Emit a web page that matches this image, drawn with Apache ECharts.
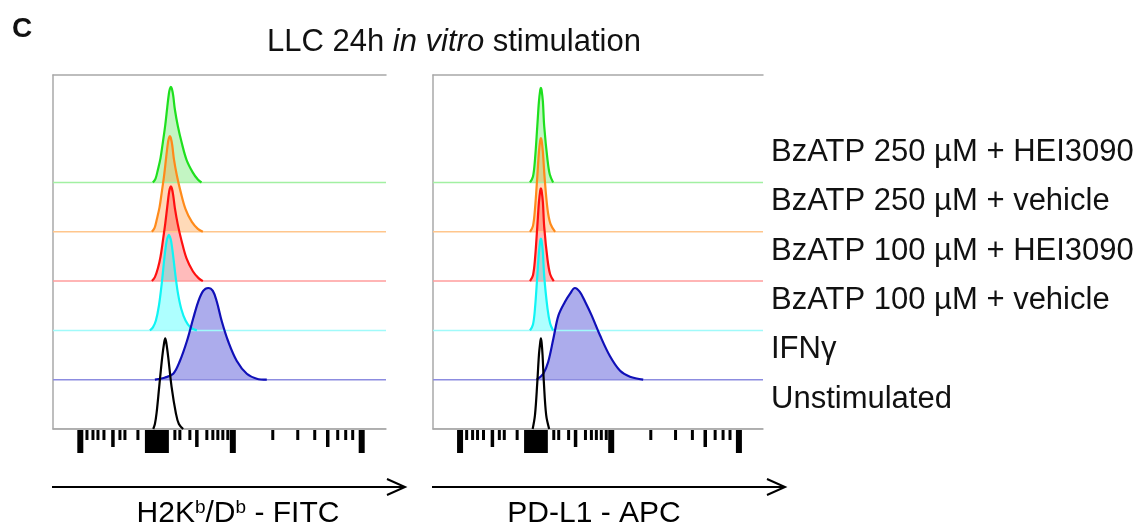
<!DOCTYPE html>
<html>
<head>
<meta charset="utf-8">
<script src="https://cdn.jsdelivr.net/npm/echarts@6/dist/echarts.min.js"></script>
<style>
  html, body { margin: 0; padding: 0; background: #fff; }
  #chart { width: 1142px; height: 531px; }
</style>
</head>
<body>
<div id="chart"></div>
<script>
// sample names, top row to bottom row
const samples = ['BzATP 250 µM + HEI3090', 'BzATP 250 µM + vehicle', 'BzATP 100 µM + HEI3090',
                 'BzATP 100 µM + vehicle', 'IFNγ', 'Unstimulated']
// vertical offset of each histogram (count units)
const rowOffsets = [250, 200, 150, 100, 50, 0]

// H2Kb/Db - FITC histograms, [channel, count]
const fitcBz250Hei = [[300,0],[308,4],[315,13],[323,25],[330,41],[337,58],[343,76],[348,90],[351,95],[354,97],[357,95],[361,88],[366,74],[375,57],[386,41],[401,23],[420,10],[435,3],[446,0]]
const fitcBz250Veh = [[297,0],[305,4],[312,13],[320,25],[327,41],[334,58],[340,76],[345,90],[348,95],[351,97],[354,95],[358,88],[363,74],[372,57],[383,41],[398,23],[417,10],[435,3],[450,0]]
const fitcBz100Hei = [[297,0],[306,4],[315,13],[323,25],[330,41],[337,58],[343,75],[348,89],[351,94],[354,96],[357,94],[361,87],[366,74],[375,57],[386,41],[401,23],[420,10],[437,3],[450,0]]
const fitcBz100Veh = [[291,0],[300,3],[309,10],[318,25],[327,49],[335,75],[341,90],[345,95],[348,97],[351,95],[355,90],[361,75],[368,55],[375,38],[385,22],[398,10],[413,3],[432,0]]
const fitcIfng     = [[306,0],[335,2],[361,6],[381,19],[402,39],[421,62],[436,79],[451,90],[466,93],[480,90],[492,79],[507,59],[526,39],[552,19],[582,6],[612,1],[642,0]]
const fitcUnstim   = [[301,0],[306,5],[311,16],[319,43],[328,73],[334,88],[337,92],[340,88],[346,73],[356,43],[369,16],[378,5],[391,0]]

// PD-L1 - APC histograms, [channel, count]
const apcBz250Hei = [[294,0],[303,6],[309,23],[316,57],[321,82],[325,94],[327,96],[329,94],[333,82],[337,57],[347,23],[354,8],[364,0]]
const apcBz250Veh = [[294,0],[303,6],[309,23],[316,56],[321,81],[325,93],[327,95],[329,93],[333,81],[338,56],[347,23],[356,8],[370,0]]
const apcBz100Hei = [[294,0],[303,6],[309,22],[316,55],[321,80],[325,92],[327,94],[329,92],[333,80],[337,55],[347,22],[355,7],[366,0]]
const apcBz100Veh = [[294,0],[303,6],[309,22],[316,55],[321,79],[325,91],[327,93],[329,91],[333,79],[337,55],[347,22],[355,7],[364,0]]
const apcIfng     = [[314,0],[334,6],[349,18],[365,42],[380,65],[400,79],[415,87],[430,93],[445,89],[461,79],[481,65],[506,45],[536,24],[567,9],[597,3],[637,0]]
const apcUnstim   = [[302,0],[309,14],[316,47],[321,75],[325,88],[327,92],[329,88],[332,75],[336,47],[343,14],[352,0]]

// axis tick positions (channel units), same on both panels
const minorTicks  = [102,120,135,153,201,216,255,366,381,411,462,480,495,510,525,660,735,786,855,879,900]
const mediumTicks = [180,432,825]
const majorTicks  = [82,540,927]
const zeroBand    = [276,348]

const panels = [
    [fitcBz250Hei, fitcBz250Veh, fitcBz100Hei, fitcBz100Veh, fitcIfng, fitcUnstim],
    [apcBz250Hei, apcBz250Veh, apcBz100Hei, apcBz100Veh, apcIfng, apcUnstim]
]

const lineColors = ['#1ee01e', '#ff8a1a', '#ff1010', '#10f4f4', '#1010b8', '#000000']
const fillColors = ['rgba(40,220,40,0.4)', 'rgba(255,140,30,0.45)', 'rgba(255,40,40,0.45)',
                    'rgba(0,255,255,0.45)', 'rgba(40,40,205,0.55)', 'rgba(0,0,0,0)']
const baseColors = ['#a2f0a2', '#ffc68c', '#ff9c9c', '#a0fafa', '#8c8ce0', '#aaaaaa']

const FONT = '"Liberation Sans", Arial, sans-serif'
const axisGray = '#a8a8a8'

let chart = echarts.init(document.getElementById('chart'))

let grids = [
    {left: 53, top: 75, width: 333, height: 354},
    {left: 433, top: 75, width: 330, height: 354}
]

let xAxes = []
// bottom axes then top axes (top ones are only the frame line)
;['bottom', 'top'].forEach(pos => {
    grids.forEach((g, i) => {
        xAxes.push({
            type: 'value', gridIndex: i, position: pos, min: 0, max: 1000,
            axisLine: {show: true, onZero: false, lineStyle: {color: axisGray, width: 1.5}},
            axisTick: {show: false}, axisLabel: {show: false}, splitLine: {show: false}
        })
    })
})
let yAxes = grids.map((g, i) => ({
    type: 'value', gridIndex: i, min: 0, max: 359,
    axisLine: {show: true, lineStyle: {color: axisGray, width: 1.5}},
    axisTick: {show: false}, axisLabel: {show: false}, splitLine: {show: false}
}))

function tickItem(len, w){
    return function(params, api){
        let p = api.coord([api.value(0), 0])
        return {type: 'rect', shape: {x: p[0] - w / 2, y: p[1] + 1, width: w, height: len}, style: {fill: '#000'}}
    }
}

let series = []
panels.forEach((curves, pi) => {
    curves.forEach((pts, k) => {
        let off = rowOffsets[k]
        // row baseline
        let base = {
            type: 'line', xAxisIndex: pi, yAxisIndex: pi, silent: true, symbol: 'none',
            data: [[0, off], [1000, off]],
            lineStyle: {color: baseColors[k], width: 1.5}
        }
        if (pi == 1) {
            base.endLabel = {
                show: true, formatter: samples[k], distance: 8, offset: [0, -30],
                fontSize: 31, fontFamily: FONT, color: '#111'
            }
        }
        series.push(base)
        // histogram
        series.push({
            type: 'line', xAxisIndex: pi, yAxisIndex: pi, silent: true, symbol: 'none',
            smooth: 0.35,
            data: pts.map(d => [d[0], off + d[1]]),
            lineStyle: {color: lineColors[k], width: 2.2},
            areaStyle: {color: fillColors[k], origin: off}
        })
    })
    // axis ticks below the panel
    series.push({type: 'custom', xAxisIndex: pi, yAxisIndex: pi, clip: false, silent: true,
        data: minorTicks.map(v => [v]), renderItem: tickItem(10, 3)})
    series.push({type: 'custom', xAxisIndex: pi, yAxisIndex: pi, clip: false, silent: true,
        data: mediumTicks.map(v => [v]), renderItem: tickItem(17, 3.5)})
    series.push({type: 'custom', xAxisIndex: pi, yAxisIndex: pi, clip: false, silent: true,
        data: majorTicks.map(v => [v]), renderItem: tickItem(23, 6)})
    series.push({type: 'custom', xAxisIndex: pi, yAxisIndex: pi, clip: false, silent: true,
        data: [zeroBand],
        renderItem: function(params, api){
            let a = api.coord([api.value(0), 0])
            let b = api.coord([api.value(1), 0])
            return {type: 'rect', shape: {x: a[0], y: a[1] + 1, width: b[0] - a[0], height: 23}, style: {fill: '#000'}}
        }})
})

function arrow(x0, x1, y){
    return [
        {type: 'line', shape: {x1: x0, y1: y, x2: x1, y2: y}, style: {stroke: '#000', lineWidth: 2}},
        {type: 'polyline', shape: {points: [[x1 - 18, y - 8], [x1, y], [x1 - 18, y + 8]]},
            style: {stroke: '#000', lineWidth: 2, fill: null}}
    ]
}

let supRich = {
    n: {fontSize: 30, fontFamily: FONT, color: '#111', lineHeight: 32},
    s: {fontSize: 19, fontFamily: FONT, color: '#111', verticalAlign: 'top', lineHeight: 32}
}

chart.setOption({
    animation: false,
    title: {
        text: '{a|LLC 24h }{b|in vitro}{a| stimulation}',
        left: 262, top: 22,
        textStyle: {
            rich: {
                a: {fontSize: 31, fontFamily: FONT, color: '#111', fontWeight: 'normal'},
                b: {fontSize: 31, fontFamily: FONT, color: '#111', fontWeight: 'normal', fontStyle: 'italic'}
            }
        }
    },
    graphic: [
        {type: 'text', x: 12, y: 15, style: {text: 'C', font: 'bold 28px ' + FONT, fill: '#111'}},
        {type: 'text', x: 238, y: 514, style: {text: '{n|H2K}{s|b}{n|/D}{s|b}{n| - FITC}', rich: supRich,
            align: 'center', verticalAlign: 'middle', textAlign: 'center', textVerticalAlign: 'middle'}},
        {type: 'text', x: 594, y: 514, style: {text: '{n|PD-L1 - APC}', rich: supRich,
            align: 'center', verticalAlign: 'middle', textAlign: 'center', textVerticalAlign: 'middle'}},
        ...arrow(52, 405, 487),
        ...arrow(432, 785, 487)
    ],
    grid: grids,
    xAxis: xAxes,
    yAxis: yAxes,
    series: series
})
</script>
</body>
</html>
